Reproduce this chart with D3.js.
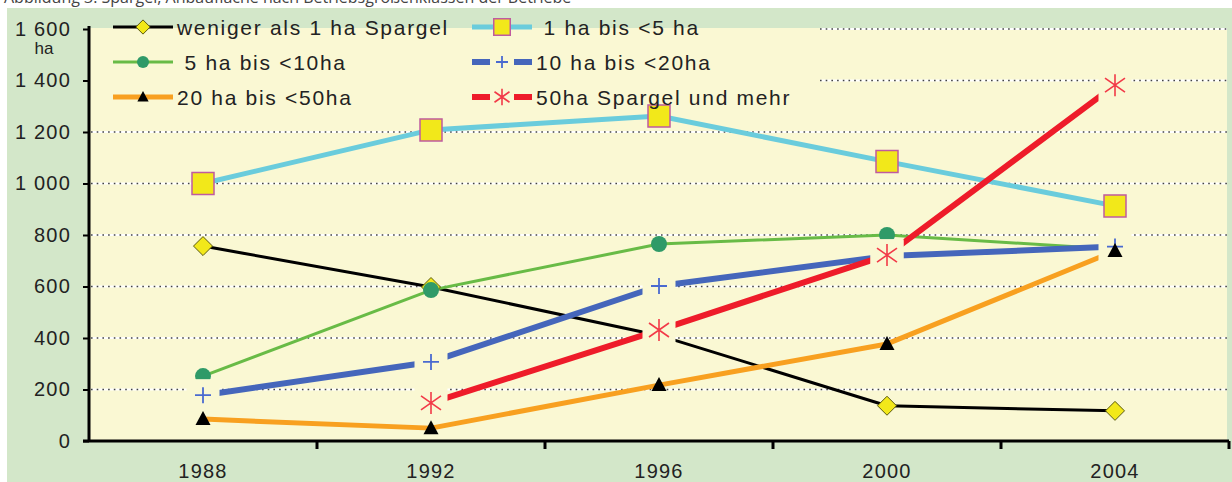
<!DOCTYPE html>
<html>
<head>
<meta charset="utf-8">
<script src="https://cdn.jsdelivr.net/npm/d3@7"></script>
<style>
  body { margin: 0; background: #fff; }
  svg { display: block; font-family: "Liberation Sans", Arial, sans-serif; }
  text { white-space: pre; }
</style>
</head>
<body>
<div class="SpargelPlot"></div>
<script>
// data
const years = ['1988', '1992', '1996', '2000', '2004']
const seriesNames = ['weniger als 1 ha Spargel', ' 1 ha bis <5 ha', ' 5 ha bis <10ha',
  '10 ha bis <20ha', '20 ha bis <50ha', '50ha Spargel und mehr']
const weniger1ha = [757, 598, 410, 137, 117]
const ha1bis5 = [1000, 1208, 1262, 1085, 913]
const ha5bis10 = [252, 586, 765, 800, 745]
const ha10bis20 = [178, 307, 602, 718, 755]
const ha20bis50 = [85, 50, 217, 377, 738]
const ha50mehr = [null, 148, 431, 722, 1382]
const yTicks = [0, 200, 400, 600, 800, 1000, 1200, 1400, 1600]

const width = 1232
const height = 482
const margin = ({top: 28, right: 3, bottom: 41, left: 89})
const plotBg = '#faf8d3'
const outerBg = '#d3e7c9'

// series look, in drawing order
const looks = [
  {values: weniger1ha, color: '#000', w: 3, marker: 'diamond'},
  {values: ha1bis5, color: '#6accdc', w: 5, marker: 'square'},
  {values: ha5bis10, color: '#68bb46', w: 3, marker: 'circle'},
  {values: ha10bis20, color: '#4566bb', w: 6, marker: 'plus'},
  {values: ha20bis50, color: '#f8a020', w: 5, marker: 'triangle'},
  {values: ha50mehr, color: '#ee1c2a', w: 6, marker: 'star'}
]

let x = d3.scaleBand()
  .domain(years)
  .range([margin.left, width - margin.right])
  .padding(0)

let y = d3.scaleLinear()
  .domain([0, 1600])
  .range([height - margin.bottom, margin.top + 1])

const svg = d3.select('.SpargelPlot').append('svg')
  .attr('width', width)
  .attr('height', height)
  .attr('viewBox', [0, 0, width, height])

// title, cut off at the top edge
svg.append('text')
  .attr('x', 4)
  .attr('y', 3)
  .attr('fill', '#444')
  .style('font-family', '"Open Sans", sans-serif')
  .style('font-size', '16px')
  .text('Abbildung 3: Spargel, Anbaufläche nach Betriebsgrößenklassen der Betriebe')

svg.append('rect')
  .attr('x', 7).attr('y', 8)
  .attr('width', width - 7).attr('height', height - 8)
  .attr('fill', outerBg)

svg.append('rect')
  .attr('x', margin.left).attr('y', margin.top)
  .attr('width', width - margin.right - margin.left - 2)
  .attr('height', height - margin.bottom - margin.top)
  .attr('fill', plotBg)

// dotted grid, hidden behind the legend on the top rows
let grid = svg.append('g')
grid.selectAll('line.bg')
  .data(yTicks.slice(1))
  .join('line')
    .attr('class', 'bg')
    .attr('x1', d => d >= 1400 ? 820 : margin.left + 2)
    .attr('x2', width - margin.right - 2)
    .attr('y1', d => y(d))
    .attr('y2', d => y(d))
    .attr('stroke', '#fff')
    .attr('stroke-width', 2)
grid.selectAll('line.dot')
  .data(yTicks.slice(1))
  .join('line')
    .attr('class', 'dot')
    .attr('x1', d => d >= 1400 ? 820 : margin.left + 2)
    .attr('x2', width - margin.right - 2)
    .attr('y1', d => y(d))
    .attr('y2', d => y(d))
    .attr('stroke', '#444')
    .attr('stroke-width', 1.6)
    .attr('stroke-dasharray', '1.6,4.1')

// y axis
let yAxis = g => g
  .attr('transform', `translate(${margin.left},0)`)
  .call(d3.axisLeft(y).tickValues(yTicks).tickSize(6).tickSizeOuter(0).tickPadding(12)
    .tickFormat(d => d3.format(',')(d).replace(',', ' ')))
  .call(g => g.select('.domain').attr('stroke-width', 3).attr('d', `M0,${margin.top - 2}V${height - margin.bottom}`))
  .call(g => g.selectAll('.tick line').attr('stroke-width', 2))
  .call(g => g.selectAll('.tick text')
    .attr('fill', '#222')
    .style('font-size', '20px')
    .style('letter-spacing', '1.2px'))

svg.append('g').call(yAxis)

svg.append('text')
  .attr('x', 44)
  .attr('y', 54)
  .attr('text-anchor', 'middle')
  .attr('fill', '#222')
  .style('font-size', '17px')
  .text('ha')

// x axis: labels at centres, ticks at band edges
let xAxis = g => g
  .attr('transform', `translate(0,${height - margin.bottom})`)
  .call(d3.axisBottom(x).tickSize(0).tickSizeOuter(0).tickPadding(23))
  .call(g => g.select('.domain').attr('stroke-width', 3).attr('d', `M${margin.left - 6},0H${width - margin.right}`))
  .call(g => g.selectAll('.tick text')
    .attr('fill', '#222')
    .style('font-size', '20px')
    .style('letter-spacing', '1.2px'))
  .call(g => g.selectAll('line.edge')
    .data(years.map(d => x(d) + x.bandwidth()))
    .join('line')
      .attr('class', 'edge')
      .attr('x1', d => d).attr('x2', d => d)
      .attr('y1', 0).attr('y2', 8)
      .attr('stroke', '#000')
      .attr('stroke-width', 3))

svg.append('g').call(xAxis)

// marker shapes
const markerPath = {
  diamond: s => `M0,${-9.5 * s}L${9.5 * s},0L0,${9.5 * s}L${-9.5 * s},0Z`,
  square: s => `M${-11 * s},${-11 * s}H${11 * s}V${11 * s}H${-11 * s}Z`,
  triangle: s => `M0,${-8 * s}L${7.5 * s},${6 * s}L${-7.5 * s},${6 * s}Z`,
  plus: s => `M${-8 * s},0H${8 * s}M0,${-8 * s}V${8 * s}`,
  star: s => `M0,${-11 * s}V${11 * s}M${-10 * s},${-7 * s}L${10 * s},${7 * s}M${-10 * s},${7 * s}L${10 * s},${-7 * s}`
}

const drawMarker = (g, type, cx, cy, s, boxW) => {
  if (type === 'plus' || type === 'star') {
    g.append('rect')
      .attr('x', cx - boxW / 2).attr('y', cy - 16 * s)
      .attr('width', boxW).attr('height', 32 * s)
      .attr('fill', plotBg)
  }
  if (type === 'circle') {
    g.append('circle').attr('cx', cx).attr('cy', cy).attr('r', 8 * s).attr('fill', '#2f9a68')
    return
  }
  let p = g.append('path')
    .attr('transform', `translate(${cx},${cy})`)
    .attr('d', markerPath[type](s))
  if (type === 'diamond') p.attr('fill', '#f2e81a').attr('stroke', '#5a5a10').attr('stroke-width', 1)
  if (type === 'square') p.attr('fill', '#f2e81a').attr('stroke', '#c05aa0').attr('stroke-width', 1.5)
  if (type === 'triangle') p.attr('fill', '#000')
  if (type === 'plus') p.attr('fill', 'none').attr('stroke', '#4a6ad0').attr('stroke-width', 1.8)
  if (type === 'star') p.attr('fill', 'none').attr('stroke', '#f23a48').attr('stroke-width', 1.6)
}

const cx = d => x(d) + x.bandwidth() / 2

let line = d3.line()
  .defined(d => d[1] != null)
  .x(d => cx(d[0]))
  .y(d => y(d[1]))

// all lines first, then the markers series by series
svg.append('g')
  .attr('fill', 'none')
  .attr('stroke-linejoin', 'round')
  .selectAll('path')
  .data(looks)
  .join('path')
    .attr('stroke', d => d.color)
    .attr('stroke-width', d => d.w)
    .attr('d', d => line(years.map((yr, i) => [yr, d.values[i]])))

let markers = svg.append('g')
looks.forEach(s => {
  years.forEach((yr, i) => {
    if (s.values[i] == null) return
    drawMarker(markers, s.marker, cx(yr), y(s.values[i]), 1, 33)
  })
})

// legend
const legendCols = [113, 472]
const legendRows = [27, 62, 97]
let legend = svg.append('g')
looks.forEach((s, i) => {
  let lx = legendCols[i % 2]
  let ly = legendRows[Math.floor(i / 2)]
  legend.append('line')
    .attr('x1', lx).attr('x2', lx + 60)
    .attr('y1', ly).attr('y2', ly)
    .attr('stroke', s.color)
    .attr('stroke-width', s.w)
  drawMarker(legend, s.marker, lx + 30, ly, 0.75, 24)
  legend.append('text')
    .attr('x', lx + 64)
    .attr('y', ly + 7.5)
    .attr('fill', '#222')
    .style('font-size', '21px')
    .style('letter-spacing', '1.7px')
    .text(seriesNames[i])
})
</script>
</body>
</html>
